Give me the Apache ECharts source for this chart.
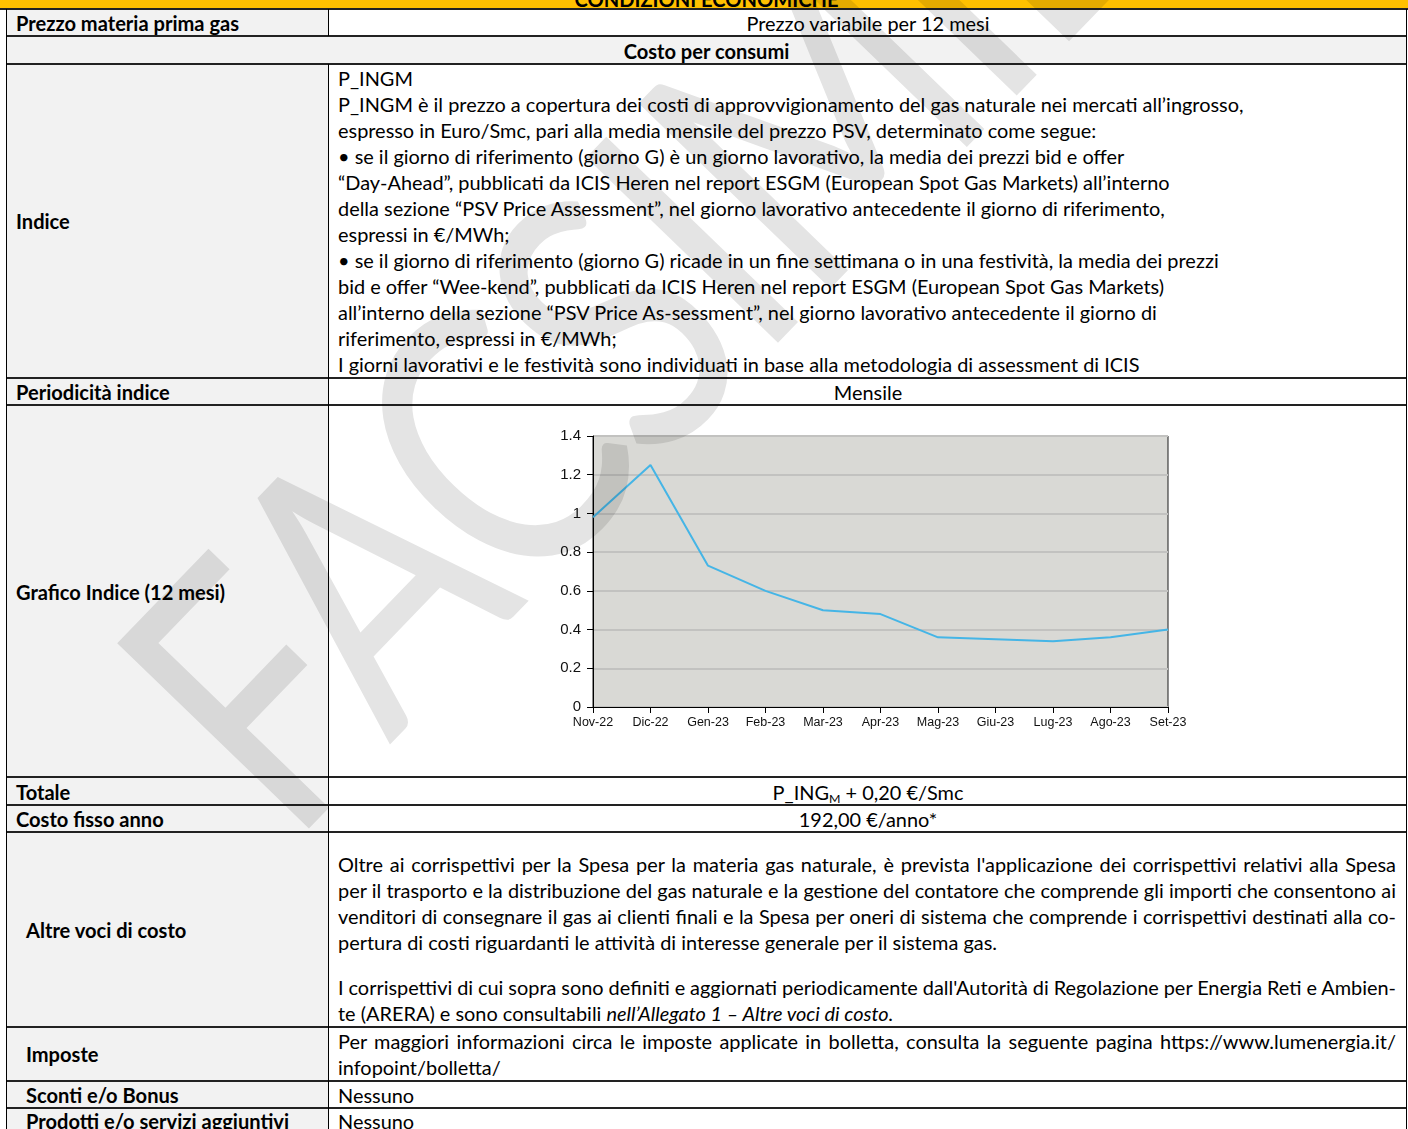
<!DOCTYPE html>
<html>
<head>
<meta charset="utf-8">
<script src="https://cdn.jsdelivr.net/npm/echarts@6/dist/echarts.min.js"></script>
<style>
  html, body { margin:0; padding:0; background:#fff; }
  #page { position:relative; width:1408px; height:1129px; overflow:hidden; background:#fff; font-family: Lato, "Open Sans", sans-serif; color:#000; }
  .bg { position:absolute; }
  .hl { position:absolute; height:2px; background:#222; }
  .vl { position:absolute; width:1px; background:#000; }
  .t { position:absolute; height:26px; line-height:26px; white-space:nowrap; font-size:var(--fs,17px); }
  .b { font-weight:bold; font-size:var(--fsb,17px); }
  .c { text-align:center; }
  .j { width:1058px; }
  #chart { position:absolute; left:330px; top:407px; width:1076px; height:368px; }
  #wm { position:absolute; left:0; top:0; mix-blend-mode:multiply; pointer-events:none; }
  sub { font-size:0.62em; vertical-align:-0.25em; line-height:0; }
</style>
</head>
<body>
<script>
// ---- chart data ----
const months = ["Nov-22","Dic-22","Gen-23","Feb-23","Mar-23","Apr-23","Mag-23","Giu-23","Lug-23","Ago-23","Set-23"];
const indexValues = [0.98, 1.25, 0.73, 0.60, 0.50, 0.48, 0.36, 0.35, 0.34, 0.36, 0.40];
const yMin = 0, yMax = 1.4, yStep = 0.2;

// ---- text sizing (fit Lato to the reference's Calibri widths) ----
(function(){
  const ctx = document.createElement('canvas').getContext('2d');
  ctx.font = '100px Lato';
  const w = ctx.measureText('P_INGM è il prezzo a copertura dei costi di approvvigionamento del gas naturale nei mercati all’ingrosso,').width;
  ctx.font = 'bold 100px Lato';
  const wb = ctx.measureText('Prezzo materia prima gas').width;
  document.documentElement.style.setProperty('--fs', (100*906/w).toFixed(2)+'px');
  document.documentElement.style.setProperty('--fsb', (100*223/wb).toFixed(2)+'px');
})();
</script>
<div id="page">
  <!-- backgrounds -->
  <div class="bg" style="left:0;top:0;width:1408px;height:9px;background:#ffc000"></div>
  <div class="bg" style="left:6px;top:9px;width:322px;height:1120px;background:#f2f2f2"></div>
  <div class="bg" style="left:6px;top:36px;width:1401px;height:28px;background:#f2f2f2"></div>

  <!-- header (cut off at top) -->
  <div class="t b c" style="left:6px;width:1401px;top:-14px">CONDIZIONI ECONOMICHE</div>

  <!-- left labels -->
  <div class="t b" style="left:16px;top:10px">Prezzo materia prima gas</div>
  <div class="t b c" style="left:6px;width:1401px;top:38px">Costo per consumi</div>
  <div class="t b" style="left:16px;top:208px">Indice</div>
  <div class="t b" style="left:16px;top:379px">Periodicità indice</div>
  <div class="t b" style="left:16px;top:579px">Grafico Indice (12 mesi)</div>
  <div class="t b" style="left:16px;top:779px">Totale</div>
  <div class="t b" style="left:16px;top:806px">Costo fisso anno</div>
  <div class="t b" style="left:26px;top:917px">Altre voci di costo</div>
  <div class="t b" style="left:26px;top:1041px">Imposte</div>
  <div class="t b" style="left:26px;top:1082px">Sconti e/o Bonus</div>
  <div class="t b" style="left:26px;top:1108px">Prodotti e/o servizi aggiuntivi</div>

  <!-- right column centered values -->
  <div class="t c" style="left:329px;width:1078px;top:10px">Prezzo variabile per 12 mesi</div>
  <div class="t c" style="left:329px;width:1078px;top:379px">Mensile</div>
  <div class="t c" style="left:329px;width:1078px;top:779px">P_ING<sub>M</sub> + 0,20 €/Smc</div>
  <div class="t c" style="left:329px;width:1078px;top:806px">192,00 €/anno*</div>

  <!-- Indice text -->
  <div class="t" style="left:338px;top:65px">P_INGM</div>
  <div class="t" style="left:338px;top:91px">P_INGM è il prezzo a copertura dei costi di approvvigionamento del gas naturale nei mercati all’ingrosso,</div>
  <div class="t" style="left:338px;top:117px">espresso in Euro/Smc, pari alla media mensile del prezzo PSV, determinato come segue:</div>
  <div class="t" style="left:338px;top:143px">• se il giorno di riferimento (giorno G) è un giorno lavorativo, la media dei prezzi bid e offer</div>
  <div class="t" style="left:338px;top:169px">“Day-Ahead”, pubblicati da ICIS Heren nel report ESGM (European Spot Gas Markets) all’interno</div>
  <div class="t" style="left:338px;top:195px">della sezione “PSV Price Assessment”, nel giorno lavorativo antecedente il giorno di riferimento,</div>
  <div class="t" style="left:338px;top:221px">espressi in €/MWh;</div>
  <div class="t" style="left:338px;top:247px">• se il giorno di riferimento (giorno G) ricade in un fine settimana o in una festività, la media dei prezzi</div>
  <div class="t" style="left:338px;top:273px">bid e offer “Wee-kend”, pubblicati da ICIS Heren nel report ESGM (European Spot Gas Markets)</div>
  <div class="t" style="left:338px;top:299px">all’interno della sezione “PSV Price As-sessment”, nel giorno lavorativo antecedente il giorno di</div>
  <div class="t" style="left:338px;top:325px">riferimento, espressi in €/MWh;</div>
  <div class="t" style="left:338px;top:351px">I giorni lavorativi e le festività sono individuati in base alla metodologia di assessment di ICIS</div>

  <!-- Altre voci di costo -->
  <div class="t j" style="left:338px;top:851px">Oltre ai corrispettivi per la Spesa per la materia gas naturale, è prevista l'applicazione dei corrispettivi relativi alla Spesa</div>
  <div class="t j" style="left:338px;top:877px">per il trasporto e la distribuzione del gas naturale e la gestione del contatore che comprende gli importi che consentono ai</div>
  <div class="t j" style="left:338px;top:903px">venditori di consegnare il gas ai clienti finali e la Spesa per oneri di sistema che comprende i corrispettivi destinati alla co-</div>
  <div class="t" style="left:338px;top:929px">pertura di costi riguardanti le attività di interesse generale per il sistema gas.</div>
  <div class="t j" style="left:338px;top:974px">I corrispettivi di cui sopra sono definiti e aggiornati periodicamente dall'Autorità di Regolazione per Energia Reti e Ambien-</div>
  <div class="t" style="left:338px;top:1000px">te (ARERA) e sono consultabili <i>nell’Allegato 1 – Altre voci di costo.</i></div>

  <!-- Imposte -->
  <div class="t j" style="left:338px;top:1028px">Per maggiori informazioni circa le imposte applicate in bolletta, consulta la seguente pagina https://www.lumenergia.it/</div>
  <div class="t" style="left:338px;top:1054px">infopoint/bolletta/</div>
  <div class="t" style="left:338px;top:1082px">Nessuno</div>
  <div class="t" style="left:338px;top:1108px">Nessuno</div>

  <!-- chart -->
  <div id="chart"></div>

  <!-- grid lines -->
  <div class="hl" style="left:0;top:8px;width:1408px"></div>
  <div class="hl" style="left:6px;top:35px;width:1401px"></div>
  <div class="hl" style="left:6px;top:63px;width:1401px"></div>
  <div class="hl" style="left:6px;top:377px;width:1401px"></div>
  <div class="hl" style="left:6px;top:404px;width:1401px"></div>
  <div class="hl" style="left:6px;top:776px;width:1401px"></div>
  <div class="hl" style="left:6px;top:804px;width:1401px"></div>
  <div class="hl" style="left:6px;top:831px;width:1401px"></div>
  <div class="hl" style="left:6px;top:1026px;width:1401px"></div>
  <div class="hl" style="left:6px;top:1080px;width:1401px"></div>
  <div class="hl" style="left:6px;top:1107px;width:1401px"></div>
  <div class="vl" style="left:6px;top:9px;height:1120px"></div>
  <div class="vl" style="left:1406px;top:9px;height:1120px"></div>
  <div class="vl" style="left:328px;top:9px;height:27px"></div>
  <div class="vl" style="left:328px;top:64px;height:1065px"></div>

  <!-- watermark -->
  <svg id="wm" width="1408" height="1129">
    <g transform="translate(290 848) rotate(-46) scale(0.8 1)">
      <text x="0" y="0" font-family="Lato" font-weight="400" font-size="372" letter-spacing="-10" fill="#e4e4e4">FACSIMILE</text>
    </g>
  </svg>
</div>
<script>
// justify single lines
document.querySelectorAll('.t.j').forEach(el => {
  const span = document.createElement('span');
  span.innerHTML = el.innerHTML;
  el.innerHTML = '';
  el.appendChild(span);
  const natural = span.getBoundingClientRect().width;
  const spaces = (span.textContent.match(/ /g) || []).length;
  if (spaces) el.style.wordSpacing = ((1058 - natural) / spaces).toFixed(3) + 'px';
});

const chart = echarts.init(document.getElementById('chart'), null, { renderer: 'canvas' });
chart.setOption({
  animation: false,
  grid: { left: 263, right: 238, top: 29, bottom: 68, show: true, backgroundColor: '#d9d9d5', borderColor: '#1a1a1a', borderWidth: 1 },
  xAxis: {
    type: 'category', data: months, boundaryGap: false,
    axisLine: { lineStyle: { color: '#000', width: 1 } },
    axisTick: { show: true, length: 6, interval: 0, lineStyle: { color: '#000' } },
    axisLabel: { interval: 0, margin: 9, color: '#111', fontSize: 12.5, fontFamily: 'Liberation Sans, Arial' },
    splitLine: { show: false }
  },
  yAxis: {
    type: 'value', min: yMin, max: yMax, interval: yStep,
    axisLine: { show: true, lineStyle: { color: '#000', width: 1 } },
    axisTick: { show: true, length: 6, lineStyle: { color: '#000' } },
    axisLabel: { margin: 12, color: '#111', fontSize: 15, fontFamily: 'Liberation Sans, Arial', formatter: v => String(+v.toFixed(1)) },
    splitLine: { show: true, lineStyle: { color: '#c2c2c0', width: 2 } }
  },
  series: [{
    type: 'line', data: indexValues, showSymbol: false, symbol: 'none',
    lineStyle: { color: '#45b5e6', width: 2 }
  }]
});
</script>
</body>
</html>
